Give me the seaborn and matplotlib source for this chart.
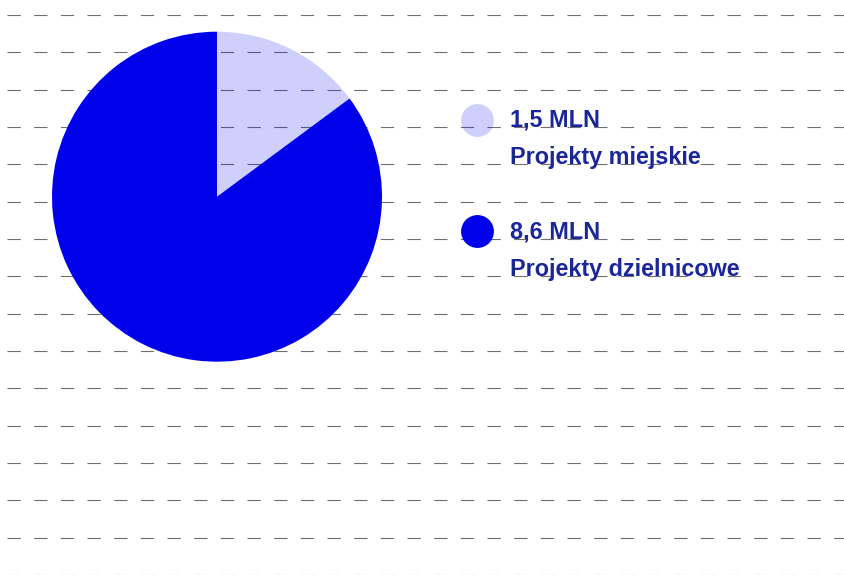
import numpy as np
import matplotlib
matplotlib.use('Agg')
from matplotlib import pyplot as plt
from matplotlib.colors import to_rgba
import seaborn as sns

# budget split (millions)
categories = ['Projekty miejskie', 'Projekty dzielnicowe']
values = [1.5, 8.6]
value_labels = ['1,5 MLN', '8,6 MLN']
alphas = [0.19, 1.0]

BLUE = '#0000EB'
TEXT = '#1a2699'

sns.set_theme(style='white')
plt.rcParams['font.family'] = ['Liberation Sans', 'DejaVu Sans']

W, H = 845, 575
fig = plt.figure(figsize=(W / 100, H / 100), dpi=100)
ax = fig.add_axes([0, 0, 1, 1])

# background dashed rules: 13.3px dash, 13.3px gap (in points at 100 dpi)
rule_y = 15 + 37.33 * np.arange(16)
for y in rule_y:
    ln, = ax.plot([7, W + 5], [y, y], color='#6f6f6f', linewidth=0.8, zorder=0)
    ln.set_dashes([9.6 / 0.8, 9.6 / 0.8])

# pie (y axis is inverted, so counterclockwise in data = clockwise on screen)
colors = [to_rgba(BLUE, a) for a in alphas]
ax.pie(values, colors=colors, startangle=-90, counterclock=True,
       center=(217, 196.7), radius=165,
       wedgeprops={'linewidth': 0, 'zorder': 2})

# legend
for i, (cat, lab) in enumerate(zip(categories, value_labels)):
    y0 = 119.5 + 111 * i
    ax.scatter([477.5], [y0], s=560, color=colors[i], linewidths=0, zorder=3)
    ax.text(510, rule_y[3 + 3 * i], lab, fontsize=16.8, fontweight='bold',
            color=TEXT, va='baseline', ha='left', zorder=4)
    ax.text(510, rule_y[4 + 3 * i], cat, fontsize=16.8, fontweight='bold',
            color=TEXT, va='baseline', ha='left', zorder=4)

ax.set_xlim(0, W)
ax.set_ylim(H, 0)
ax.set_aspect('equal')
ax.axis('off')

fig.savefig('out.png', dpi=100)
